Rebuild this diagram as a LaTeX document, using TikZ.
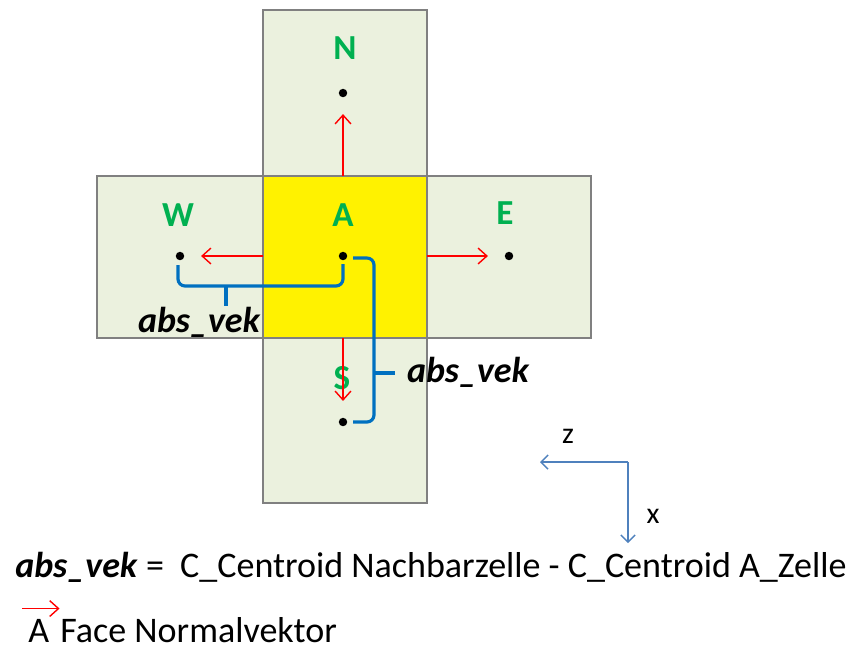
\documentclass[tikz,border=0pt]{standalone}
\usepackage{fontspec}
\setmainfont{Carlito}
\usepackage{tikz}
\usetikzlibrary{calc}
\usetikzlibrary{arrows.meta}
\definecolor{cellgreen}{HTML}{EBF1DE}
\definecolor{cellgray}{HTML}{808080}
\definecolor{lblgreen}{HTML}{00B050}
\definecolor{bracebl}{HTML}{0070C0}
\definecolor{axisbl}{HTML}{4F81BD}

\begin{document}
\begin{tikzpicture}[
x=0.02cm,
y=-0.02cm,
cell/.style={
  draw=cellgray,
  line width=1.4pt,
  fill=cellgreen},
celllabel/.style={
  text=lblgreen,
  font=\bfseries\fontsize{20}{23}\selectfont},
mydot/.style={
  circle,
  fill=black,
  inner sep=1.7pt},
normal/.style={
  draw=red,
  line width=0.8pt,
  -{Straight Barb[length=5pt,width=9pt]}},
brace/.style={
  draw=bracebl,
  line width=1.8pt,
  rounded corners=4pt},
vek/.style={
  font=\bfseries\itshape\fontsize{20.5}{23}\selectfont},
axis/.style={
  draw=axisbl,
  line width=0.8pt,
  -{Straight Barb[length=4pt,width=8pt]}},
txt/.style={
  anchor=base west,
  inner sep=0pt,
  font=\fontsize{20.5}{23}\selectfont}
]
\useasboundingbox (0,0) rectangle (854,650);
% Zellen
\draw[cell] (263,10) rectangle (427,176);
\draw[cell] (97,176) rectangle (263,338);
\draw[cell] (427,176) rectangle (591,338);
\draw[cell] (263,338) rectangle (427,503);
\draw[cell,fill=yellow] (263,176) rectangle (427,338);
% Centroide
\foreach \Zelle/\px/\py in {N/343/93,W/180/256,A/343/256,E/509/256,S/343/422}
  \node[mydot] (\Zelle) at (\px,\py) {};
\foreach \Zelle/\px/\py in {N/345/48,W/178/215,A/343/215,E/505/213,S/342/378}
  \node[celllabel] (l\Zelle) at (\px,\py) {\Zelle};
% Flaechennormalen
\coordinate (fN) at (343,176);
\coordinate (fW) at (263,256);
\coordinate (fE) at (427,256);
\coordinate (fS) at (343,338);
\foreach \Zelle in {N,W,E,S}
  \draw[normal,shorten >=0.33cm] (f\Zelle) -- (\Zelle);
% Klammern
\draw[brace] ($(W)+(-2,9)$) |- (226,286) coordinate (wTip) -| ($(A)+(0,8)$);
\draw[brace] (wTip) -- ++(0,20);
\node[vek] (vekW) at (199,322) {abs\_vek};
\draw[brace] ($(A)+(10,2)$) -| (374,373) coordinate (sTip) |- ($(S)+(10,0)$);
\draw[brace] (sTip) -- ++(21,0);
\node[vek] (vekS) at (468,372) {abs\_vek};
% Koordinatensystem
\coordinate (ax) at (628,462);
\coordinate (zEnd) at (540,462);
\coordinate (xEnd) at (628,543);
\draw[axis] (ax) -- (zEnd);
\draw[axis] (ax) -- (xEnd);
\node[font=\fontsize{17}{19}\selectfont] (zLbl) at (568,436) {z};
\node[font=\fontsize{17}{19}\selectfont] (xLbl) at (653,516) {x};
% Legende
\node[txt] (formel) at (15,577)
  {\textbf{\textit{abs\_vek}} = \ C\_Centroid Nachbarzelle - C\_Centroid A\_Zelle};
\node[txt] (aVek) at (28,642) {A};
\node[txt] (legende) at (60,642) {Face Normalvektor};
\draw[normal] ($(aVek.north west)+(-6,-10)$) -- ($(aVek.north east)+(10,-10)$);
\end{tikzpicture}
\end{document}
